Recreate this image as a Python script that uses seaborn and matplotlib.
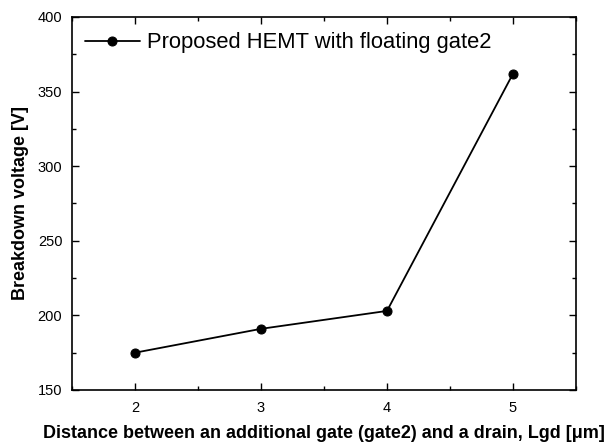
import matplotlib
matplotlib.use("Agg")
import matplotlib.pyplot as plt
from matplotlib.ticker import MultipleLocator
import seaborn as sns
import pandas as pd

# Breakdown voltage versus gate2-drain spacing
lgd_um = [2, 3, 4, 5]
breakdown_v = [175, 191, 203, 362]
series_name = "Proposed HEMT with floating gate2"

df = pd.DataFrame({"Lgd": lgd_um, "BV": breakdown_v, "device": series_name})

sns.set_theme(style="ticks")
plt.rcParams["font.family"] = ["Liberation Sans", "DejaVu Sans"]
plt.rcParams["text.color"] = "black"
plt.rcParams["axes.labelcolor"] = "black"

fig = plt.figure(figsize=(6.12, 4.46), dpi=100)
ax = fig.add_axes([72 / 612, 1 - 390 / 446, (576 - 72) / 612, (390 - 17) / 446])

sns.lineplot(data=df, x="Lgd", y="BV", hue="device", palette=["black"],
             marker="o", markersize=6.5, linewidth=1.3, markeredgecolor="black",
             ax=ax)

ax.set_xlim(1.5, 5.5)
ax.set_ylim(150, 400)
ax.xaxis.set_major_locator(MultipleLocator(1))
ax.xaxis.set_minor_locator(MultipleLocator(0.5))
ax.yaxis.set_major_locator(MultipleLocator(50))
ax.yaxis.set_minor_locator(MultipleLocator(25))
ax.tick_params(which="both", direction="in", top=True, right=True,
               labelsize=10.5, colors="black", width=1)
ax.tick_params(which="major", length=5)
ax.tick_params(which="minor", length=3)
ax.tick_params(axis="x", which="major", pad=8)
ax.tick_params(axis="y", which="major", pad=7)
for s in ax.spines.values():
    s.set_color("black")
    s.set_linewidth(1.2)

ax.set_xlabel("Distance between an additional gate (gate2) and a drain, Lgd [\u03bcm]",
              fontsize=13, fontweight="bold", labelpad=7, color="black")
ax.set_ylabel("Breakdown voltage [V]", fontsize=13, fontweight="bold", labelpad=6,
              color="black")

leg = ax.legend(frameon=False, loc="upper left", bbox_to_anchor=(-0.005, 1.0),
                fontsize=15.8, handlelength=2.5, handletextpad=0.35,
                borderaxespad=0.3)
for t in leg.get_texts():
    t.set_color("black")

fig.savefig("out.png", dpi=100)
